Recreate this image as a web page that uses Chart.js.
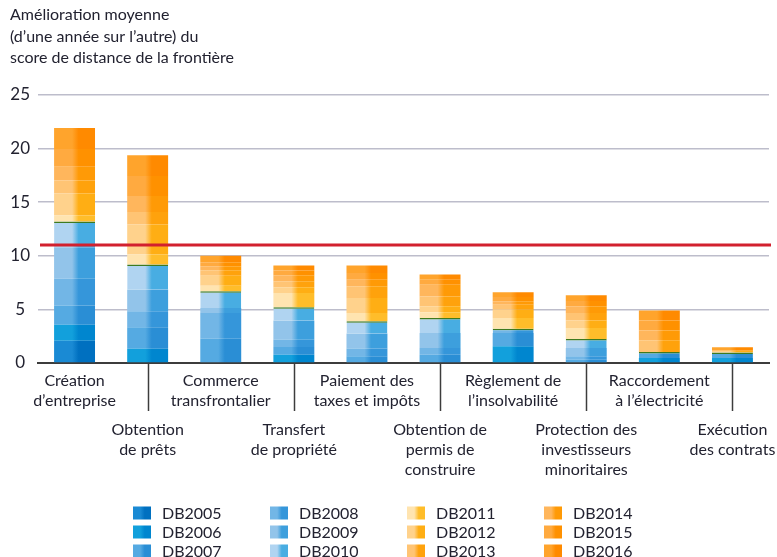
<!DOCTYPE html>
<html><head><meta charset="utf-8">
<script src="https://cdn.jsdelivr.net/npm/chart.js@4/dist/chart.umd.min.js"></script>
<style>html,body{margin:0;padding:0;background:#fff;}#wrap{width:777px;height:557px;}</style>
</head><body><div id="wrap"><canvas id="c" width="777" height="557"></canvas></div>
<script>
// ---------- data ----------
const titleLines = ["Amélioration moyenne", "(d’une année sur l’autre) du", "score de distance de la frontière"];
const categories = [
  ["Création", "d’entreprise"],
  ["Obtention", "de prêts"],
  ["Commerce", "transfrontalier"],
  ["Transfert", "de propriété"],
  ["Paiement des", "taxes et impôts"],
  ["Obtention de", "permis de", "construire"],
  ["Règlement de", "l’insolvabilité"],
  ["Protection des", "investisseurs", "minoritaires"],
  ["Raccordement", "à l’électricité"],
  ["Exécution", "des contrats"]
];
const seriesLabels = ["DB2005","DB2006","DB2007","DB2008","DB2009","DB2010","DB2011","DB2012","DB2013","DB2014","DB2015","DB2016"];
const db2005 = [2.08, 0,    0,    0,    0,    0,    0,    0,    0,    0   ];
const db2006 = [1.49, 1.33, 0,    0.77, 0,    0,    1.55, 0,    0.47, 0.47];
const db2007 = [1.78, 2.00, 2.27, 0.72, 0.62, 0.77, 1.25, 0.30, 0.56, 0.52];
const db2008 = [2.51, 1.50, 2.39, 0.68, 0.72, 0.63, 0.40, 0.32, 0,    0   ];
const db2009 = [2.94, 2.03, 0.47, 1.80, 1.40, 1.40, 0,    0.78, 0,    0   ];
const db2010 = [2.40, 2.33, 1.55, 1.22, 1.15, 1.40, 0,    0.84, 0,    0   ];
const db2011 = [0.54, 0.93, 0.53, 1.34, 0.78, 0.52, 1.00, 1.02, 0,    0   ];
const db2012 = [2.06, 2.80, 0.93, 0.52, 1.40, 0.56, 0.77, 0.71, 0,    0.15];
const db2013 = [1.20, 1.15, 0.50, 0.56, 1.08, 0.93, 0.47, 0.69, 1.08, 0   ];
const db2014 = [1.30, 1.50, 0.37, 0.56, 0.62, 1.09, 0.31, 0.62, 0.93, 0   ];
const db2015 = [1.65, 1.85, 0.37, 0.45, 0.63, 0.47, 0.40, 0.50, 0.93, 0   ];
const db2016 = [1.95, 1.94, 0.62, 0.46, 0.68, 0.47, 0.44, 0.53, 0.93, 0.32];
const averageImprovement = 11.0;
const yMin = 0, yMax = 25, yStep = 5;

const series = [db2005, db2006, db2007, db2008, db2009, db2010, db2011, db2012, db2013, db2014, db2015, db2016];

// ---------- styles ----------
const lightColors = ['#1a8ad4','#12a0dc','#55aae2','#72b6e6','#92c4ea','#b0d4f1','#ffe4b0','#ffd28c','#ffc474','#ffb65c','#ffaa40','#ffa42c'];
const darkColors  = ['#0070c0','#0086cf','#2a8ed5','#3596da','#3d9fdd','#48ade2','#ffbd2a','#ffae14','#ffa20c','#ff9a06','#ff9100','#ff8a00'];
const FONT = 'Lato, "Liberation Sans", Arial, sans-serif';
const TEXT = '#222230';
const BAR_PCT = 0.56;
const LAST_BLUE = 5;

function makeGrad(chart, light, dark) {
  const xs = chart.scales && chart.scales.x;
  const a = chart.chartArea;
  if (!xs || !a) return dark;
  const p0 = xs.getPixelForValue(0), p1 = xs.getPixelForValue(1);
  if (!isFinite(p0) || !isFinite(p1)) return dark;
  const L = a.left, R = a.right, W = R - L;
  const bw = (p1 - p0) * BAR_PCT;
  const g = chart.ctx.createLinearGradient(L, 0, R, 0);
  let last = 0;
  const add = (px, col) => { let o = Math.min(1, Math.max(0, (px - L) / W)); if (o < last) o = last; last = o; g.addColorStop(o, col); };
  categories.forEach((_, i) => {
    const c = xs.getPixelForValue(i);
    const l = c - bw / 2, r = c + bw / 2;
    add(l - 0.5, light); add(l + bw * 0.44, light); add(l + bw * 0.6, dark); add(r + 0.5, dark);
  });
  return g;
}
function isTopBlue(ds, idx) {
  if (ds > LAST_BLUE || !(series[ds][idx] > 0)) return false;
  for (let k = ds + 1; k <= LAST_BLUE; k++) if (series[k][idx] > 0) return false;
  return true;
}

const decorations = {
  id: 'decorations',
  afterDatasetsDraw(chart) {
    const {ctx, chartArea: a, scales: {x, y}} = chart;
    ctx.save();
    // average line
    const yy = y.getPixelForValue(averageImprovement);
    ctx.strokeStyle = '#d2202e'; ctx.lineWidth = 3;
    ctx.beginPath(); ctx.moveTo(a.left + 2, yy); ctx.lineTo(a.right + 2, yy); ctx.stroke();
    // separators toward lower label row
    ctx.strokeStyle = '#3c3c3c'; ctx.lineWidth = 1.5;
    categories.forEach((_, i) => {
      if (i % 2 === 1) {
        const px = Math.round(x.getPixelForValue(i)) + 0.5;
        ctx.beginPath(); ctx.moveTo(px, a.bottom); ctx.lineTo(px, a.bottom + 48); ctx.stroke();
      }
    });
    ctx.restore();
  },
  afterDraw(chart) {
    const ctx = chart.ctx;
    ctx.save();
    ctx.font = '16px ' + FONT; ctx.textBaseline = 'middle'; ctx.textAlign = 'left';
    seriesLabels.forEach((lab, k) => {
      const col = Math.floor(k / 3), row = k % 3;
      const bx = 133 + col * 137, cy = 513 + row * 19;
      const g = ctx.createLinearGradient(bx, 0, bx + 18, 0);
      g.addColorStop(0, lightColors[k]); g.addColorStop(0.4, lightColors[k]);
      g.addColorStop(0.65, darkColors[k]); g.addColorStop(1, darkColors[k]);
      ctx.fillStyle = g; ctx.fillRect(bx, cy - 6.5, 18, 13);
      ctx.fillStyle = TEXT; ctx.fillText(lab, bx + 29, cy + 0.5);
    });
    ctx.restore();
  }
};

const tickFont = {family: FONT, size: 16, lineHeight: 1.25};

new Chart(document.getElementById('c'), {
  type: 'bar',
  data: {
    labels: categories,
    datasets: seriesLabels.map((lab, k) => ({
      label: lab,
      data: series[k],
      backgroundColor: c => makeGrad(c.chart, lightColors[k], darkColors[k]),
      borderColor: '#3f7a1e',
      borderWidth: c => isTopBlue(c.datasetIndex, c.dataIndex) ? {top: 1.5, bottom: 0, left: 0, right: 0} : 0,
      borderSkipped: false,
      barPercentage: BAR_PCT,
      categoryPercentage: 1
    }))
  },
  options: {
    responsive: false,
    animation: false,
    devicePixelRatio: 1,
    layout: {padding: {left: 10, right: 8, top: 0, bottom: 76}},
    plugins: {
      legend: {display: false},
      tooltip: {enabled: false},
      title: {
        display: true, text: titleLines, align: 'start', color: TEXT,
        font: {family: FONT, size: 16, weight: 'normal', lineHeight: 1.35},
        padding: {top: 4, bottom: 26}
      }
    },
    scales: {
      x: {
        stacked: true, offset: true,
        grid: {display: false, drawTicks: false},
        border: {display: true, color: '#3c3c3c', width: 2},
        ticks: {autoSkip: false, maxRotation: 0, padding: 8, color: TEXT, font: tickFont,
          callback: function (v, i) { return i % 2 === 0 ? this.getLabelForValue(v) : ''; }}
      },
      x2: {
        type: 'category', position: 'bottom', offset: true, weight: 1,
        grid: {display: false, drawTicks: false}, border: {display: false},
        ticks: {autoSkip: false, maxRotation: 0, padding: 1, color: TEXT, font: tickFont,
          callback: function (v, i) { return i % 2 === 1 ? this.getLabelForValue(v) : ''; }}
      },
      y: {
        stacked: true, min: yMin, max: yMax,
        grid: {color: '#bdbdcb', lineWidth: 1.5, drawTicks: false},
        border: {display: false},
        ticks: {stepSize: yStep, padding: 8, crossAlign: 'center', color: TEXT, font: {family: FONT, size: 17}},
        afterFit(s) { s.width = 28; }
      }
    }
  },
  plugins: [decorations]
});
</script>
</body></html>
